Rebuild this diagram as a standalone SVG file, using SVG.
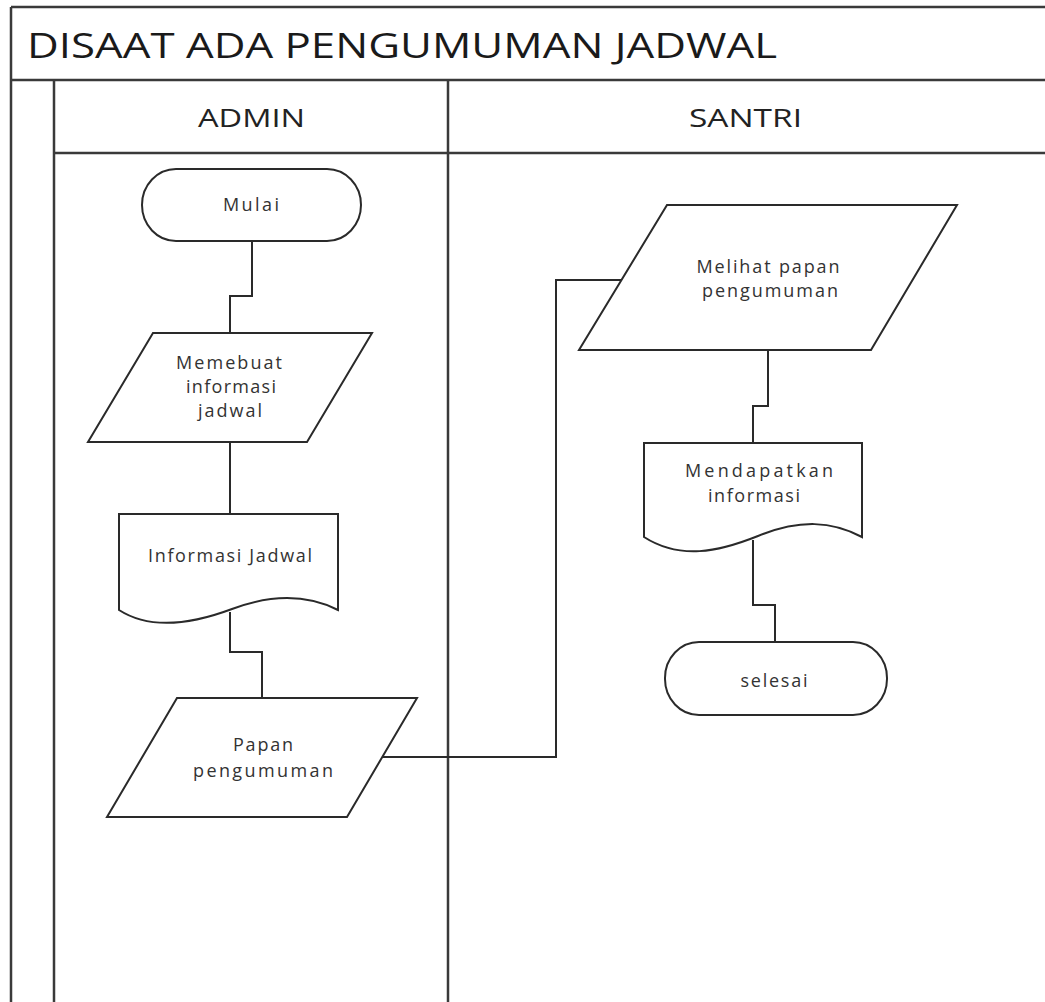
<svg xmlns="http://www.w3.org/2000/svg" width="1045" height="1002" viewBox="0 0 1045 1002">
<style>
.frame{stroke:#3a3a3a;stroke-width:2.5;fill:none}
.shape{stroke:#2a2a2a;stroke-width:2;fill:#fff}
.conn{stroke:#2a2a2a;stroke-width:2;fill:none}
.lbl{font-family:"Open Sans","DejaVu Sans",sans-serif;font-size:18px;fill:#333;text-anchor:middle}
.hdr{font-family:"Open Sans","DejaVu Sans",sans-serif;font-size:26px;fill:#222}
.ttl{font-family:"Open Sans","DejaVu Sans",sans-serif;font-size:34px;fill:#1a1a1a}
</style>
<rect width="1045" height="1002" fill="#fff"/>
<g id="pool">
<line class="frame" x1="11" y1="7" x2="1045" y2="7"/>
<line class="frame" x1="11" y1="7" x2="11" y2="1002"/>
<line class="frame" x1="11" y1="80" x2="1045" y2="80"/>
<line class="frame" x1="54" y1="80" x2="54" y2="1002"/>
<line class="frame" x1="448" y1="80" x2="448" y2="1002"/>
<line class="frame" x1="54" y1="153" x2="1045" y2="153"/>
<text class="ttl" x="27" y="58" textLength="750" lengthAdjust="spacingAndGlyphs">DISAAT ADA PENGUMUMAN JADWAL</text>
</g>
<g id="lane-admin"><text class="hdr" x="198" y="127" textLength="107" lengthAdjust="spacingAndGlyphs">ADMIN</text></g>
<g id="lane-santri"><text class="hdr" x="689" y="127" textLength="113" lengthAdjust="spacingAndGlyphs">SANTRI</text></g>
<g id="connectors">
<path class="conn" d="M252,241 V296 H230 V333"/>
<path class="conn" d="M230,442 V514"/>
<path class="conn" d="M230,612 V652 H262 V698"/>
<path class="conn" d="M382,757 H556 V280 H622"/>
<path class="conn" d="M768,350 V406 H753 V443"/>
<path class="conn" d="M753,540 V605 H775 V642"/>
</g>
<g id="mulai">
<rect class="shape" x="142" y="169" width="219" height="72" rx="34" ry="36"/>
<text class="lbl" x="251" y="211" textLength="56" lengthAdjust="spacing">Mulai</text>
</g>
<g id="memebuat">
<polygon class="shape" points="153,333 372,333 307,442 88,442"/>
<text class="lbl" x="229" y="369" textLength="106" lengthAdjust="spacing">Memebuat</text>
<text class="lbl" x="231" y="393" textLength="90" lengthAdjust="spacing">informasi</text>
<text class="lbl" x="230" y="417" textLength="64" lengthAdjust="spacing">jadwal</text>
</g>
<g id="informasi-jadwal">
<path class="shape" d="M119,514 H338 V610 C306,594 272,594 232,609 C192,624 150,630 119,610 Z"/>
<text class="lbl" x="230" y="562" textLength="164" lengthAdjust="spacing">Informasi Jadwal</text>
</g>
<g id="papan">
<polygon class="shape" points="177,698 417,698 347,817 107,817"/>
<text class="lbl" x="263" y="751" textLength="60" lengthAdjust="spacing">Papan</text>
<text class="lbl" x="263" y="777" textLength="140" lengthAdjust="spacing">pengumuman</text>
</g>
<g id="melihat">
<polygon class="shape" points="667,205 957,205 871,350 579,350"/>
<text class="lbl" x="768" y="273" textLength="143" lengthAdjust="spacing">Melihat papan</text>
<text class="lbl" x="770" y="297" textLength="136" lengthAdjust="spacing">pengumuman</text>
</g>
<g id="mendapatkan">
<path class="shape" d="M644,443 H862 V537 C832,521 800,519 758,536 C718,552 680,560 644,537 Z"/>
<text class="lbl" x="759" y="477" textLength="148" lengthAdjust="spacing">Mendapatkan</text>
<text class="lbl" x="754" y="502" textLength="92" lengthAdjust="spacing">informasi</text>
</g>
<g id="selesai">
<rect class="shape" x="665" y="642" width="222" height="73" rx="34" ry="36"/>
<text class="lbl" x="774" y="687" textLength="67" lengthAdjust="spacing">selesai</text>
</g>
</svg>
